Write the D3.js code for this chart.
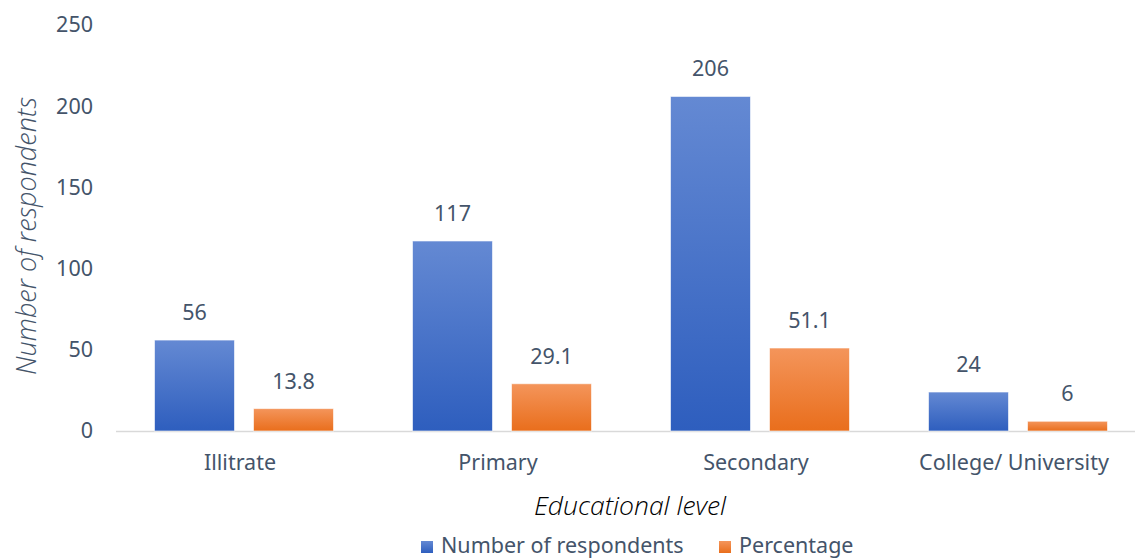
<!DOCTYPE html>
<html><head><meta charset="utf-8">
<script src="https://cdn.jsdelivr.net/npm/d3@7"></script>
<style>body{margin:0;background:#fff}svg{display:block;font-family:"Noto Sans",sans-serif}</style>
</head><body><svg id="c" width="1135" height="559"></svg>
<script>
const categories = ["Illitrate","Primary","Secondary","College/ University"];
const seriesNames = ["Number of respondents","Percentage"];
const respondents = [56,117,206,24];
const percentage = [13.8,29.1,51.1,6];
const yTicks = [0,50,100,150,200,250];

const svg = d3.select("#c");
const defs = svg.append("defs");
function grad(id, top, bottom){
  const g = defs.append("linearGradient").attr("id",id).attr("x1",0).attr("y1",0).attr("x2",0).attr("y2",1);
  g.append("stop").attr("offset","0%").attr("stop-color",top);
  g.append("stop").attr("offset","100%").attr("stop-color",bottom);
}
grad("gBlue","#6489D3","#2E5EBE");
grad("gOrange","#F4955B","#E96E1C");
const fills = ["url(#gBlue)","url(#gOrange)"];

const y = d3.scaleLinear().domain([0,250]).range([431,25]);
const x0 = d3.scaleBand().domain(categories).range([115,1147]).paddingInner(0).paddingOuter(0);
const x1 = d3.scaleBand().domain(seriesNames).range([0,x0.bandwidth()]).paddingInner(0.192).paddingOuter(0.399);

const textCol = "#44546A";
const fs = "21.5px";

// y tick labels
const yAxis = d3.axisLeft(y).tickValues(yTicks).tickSize(0).tickPadding(0);
const ga = svg.append("g").attr("transform","translate(93,0)").call(yAxis);
ga.select(".domain").remove();
ga.selectAll("text").attr("fill",textCol).style("font-size",fs).attr("font-family","'Noto Sans',sans-serif");

// baseline
svg.append("line").attr("x1",116).attr("x2",1135).attr("y1",y(0)+0.5).attr("y2",y(0)+0.5)
  .attr("stroke","#D9D9D9").attr("stroke-width",1.5);

const data = categories.map((c,i)=>({cat:c, vals:[respondents[i], percentage[i]]}));
const groups = svg.append("g").selectAll("g").data(data).join("g")
  .attr("transform",d=>`translate(${x0(d.cat)},0)`);
groups.selectAll("rect").data(d=>d.vals.map((v,j)=>({v,j}))).join("rect")
  .attr("x",d=>x1(seriesNames[d.j]))
  .attr("width",x1.bandwidth())
  .attr("y",d=>y(d.v))
  .attr("height",d=>y(0)-y(d.v))
  .attr("fill",d=>fills[d.j])
  .attr("stroke","#ffffff").attr("stroke-opacity",0.6).attr("stroke-width",1);
groups.selectAll("text.v").data(d=>d.vals.map((v,j)=>({v,j}))).join("text").attr("class","v")
  .attr("x",d=>x1(seriesNames[d.j])+x1.bandwidth()/2)
  .attr("y",d=>y(d.v)-20)
  .attr("text-anchor","middle").attr("fill",textCol).style("font-size",fs)
  .text(d=>d.v);

// x category labels
const gx = svg.append("g").attr("transform","translate(-4,0)");
categories.forEach(c=>{
  gx.append("text").attr("x",x0(c)+x0.bandwidth()/2).attr("y",470)
    .attr("text-anchor","middle").attr("fill",textCol).style("font-size",fs).text(c);
});

// axis titles
svg.append("text").attr("x",630).attr("y",515).attr("text-anchor","middle")
  .attr("fill","#000").style("font-size","26.5px").style("font-style","italic")
  .style("font-family","'Open Sans',sans-serif").style("font-weight",350).text("Educational level");
svg.append("text").attr("transform","translate(36,236) rotate(-90)").attr("text-anchor","middle")
  .attr("fill",textCol).style("font-size","27px").style("font-style","italic")
  .style("font-family","'Open Sans',sans-serif").style("font-weight",350).text("Number of respondents");

// legend
const leg = svg.append("g");
const legX = [421,719];
seriesNames.forEach((s,i)=>{
  leg.append("rect").attr("x",legX[i]).attr("y",541).attr("width",12).attr("height",12).attr("fill",fills[i]);
  leg.append("text").attr("x",legX[i]+20).attr("y",553).attr("fill",textCol).style("font-size",fs).text(s);
});
</script></body></html>
